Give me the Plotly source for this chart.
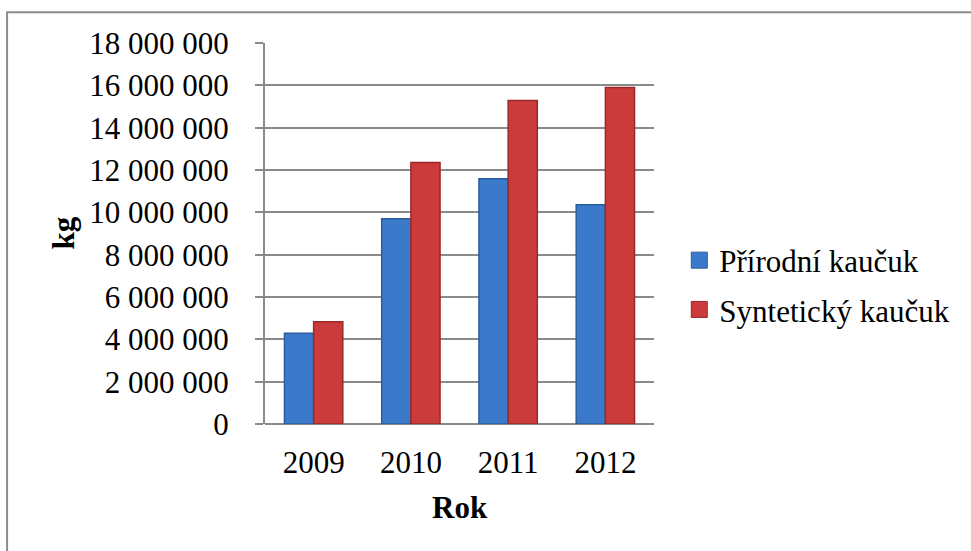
import plotly.graph_objects as go

# Rubber consumption by year (kg)
years = ["2009", "2010", "2011", "2012"]
natural = [4290000, 9700000, 11590000, 10360000]
synthetic = [4830000, 12350000, 15280000, 15900000]
series_names = ["Přírodní kaučuk", "Syntetický kaučuk"]

y_ticks = [0, 2000000, 4000000, 6000000, 8000000, 10000000,
           12000000, 14000000, 16000000, 18000000]
y_tick_text = ["0", "2 000 000", "4 000 000", "6 000 000", "8 000 000",
               "10 000 000", "12 000 000", "14 000 000", "16 000 000", "18 000 000"]

FONT = "Liberation Serif, Times New Roman, serif"
BLUE, BLUE_EDGE = "#3B79CA", "#2B5C9C"
RED, RED_EDGE = "#CB3B3B", "#9A2A2A"
GRID = "#8A8A8A"

fig = go.Figure()
fig.add_trace(go.Bar(x=years, y=natural, name=series_names[0], showlegend=False,
                     marker=dict(color=BLUE, line=dict(color=BLUE_EDGE, width=1.5))))
fig.add_trace(go.Bar(x=years, y=synthetic, name=series_names[1], showlegend=False,
                     marker=dict(color=RED, line=dict(color=RED_EDGE, width=1.5))))

# legend entries with larger square swatches
for name, col, edge, grp in [(series_names[0], BLUE, BLUE_EDGE, "a"),
                             (series_names[1], RED, RED_EDGE, "b")]:
    fig.add_trace(go.Scatter(x=[None], y=[None], mode="markers", name=name,
                             legendgroup=grp,
                             marker=dict(symbol="square", size=16, color=col,
                                         line=dict(color=edge, width=1))))

fig.update_layout(
    width=971, height=551,
    margin=dict(l=265, r=317, t=43, b=127),
    paper_bgcolor="white", plot_bgcolor="white",
    font=dict(family=FONT, size=31, color="black"),
    barmode="group", bargap=0.4, bargroupgap=0,
    showlegend=True,
    legend=dict(x=1.065, xanchor="left", y=0.5, yanchor="top",
                traceorder="grouped", tracegroupgap=6,
                font=dict(family=FONT, size=31), bgcolor="rgba(0,0,0,0)",
                itemsizing="trace"),
    xaxis=dict(showline=False, ticks="", showgrid=False, ticklabelstandoff=17,
               tickfont=dict(family=FONT, size=31)),
    yaxis=dict(range=[0, 18000000], tickvals=y_ticks, ticktext=y_tick_text,
               showgrid=True, gridcolor=GRID, gridwidth=2,
               showline=True, linecolor=GRID, linewidth=2,
               ticks="outside", ticklen=8, tickcolor=GRID, tickwidth=2,
               ticklabelstandoff=20, zeroline=True, zerolinecolor=GRID, zerolinewidth=2,
               tickfont=dict(family=FONT, size=31)),
    annotations=[
        dict(text="<b>kg</b>", xref="paper", yref="paper", x=-0.519, y=0.5,
             xanchor="center", yanchor="middle",
             textangle=-90, showarrow=False, font=dict(family=FONT, size=31)),
        dict(text="<b>Rok</b>", xref="paper", yref="paper", x=0.5, y=-0.218,
             xanchor="center", yanchor="middle",
             showarrow=False, font=dict(family=FONT, size=31)),
    ],
    shapes=[
        dict(type="rect", xref="paper", yref="paper", x0=-0.663, x1=2.0, y0=-2.0, y1=1.081,
             line=dict(color="#8C8C8C", width=2), layer="below"),
    ],
)

fig.write_html("out.html")
